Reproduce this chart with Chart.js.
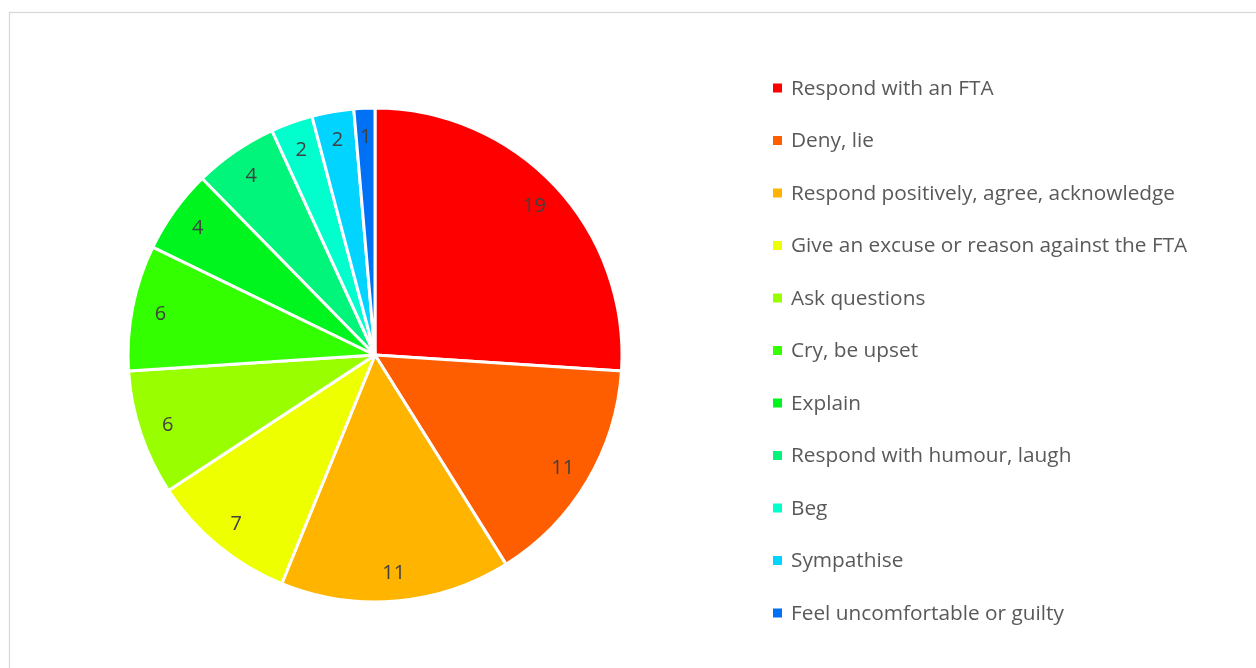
<!DOCTYPE html>
<html>
<head>
<meta charset="utf-8">
<title>Responses to FTAs</title>
<script src="https://cdn.jsdelivr.net/npm/chart.js"></script>
<style>
    html, body { margin: 0; padding: 0; background: #fff; }
    #wrap { position: relative; width: 1256px; height: 668px; }
</style>
</head>
<body>
<div id="wrap"><canvas id="chart" width="1256" height="668"></canvas></div>
<script>
var categories = [
    'Respond with an FTA',
    'Deny, lie',
    'Respond positively, agree, acknowledge',
    'Give an excuse or reason against the FTA',
    'Ask questions',
    'Cry, be upset',
    'Explain',
    'Respond with humour, laugh',
    'Beg',
    'Sympathise',
    'Feel uncomfortable or guilty'
];
var counts = [19, 11, 11, 7, 6, 6, 4, 4, 2, 2, 1];
var sliceColors = [
    '#FF0000', '#FF5E00', '#FFB400', '#EEFF00', '#99FF00', '#33FF00',
    '#00F41E', '#00F57A', '#00FFCC', '#00D4FF', '#0070F5'
];

var FONT = '"Open Sans", "Liberation Sans", sans-serif';

// light grey frame around the whole chart
var framePlugin = {
    id: 'frame',
    beforeDraw: function (chart) {
        var ctx = chart.ctx;
        ctx.save();
        ctx.fillStyle = '#fff';
        ctx.fillRect(0, 0, chart.width, chart.height);
        ctx.strokeStyle = '#D9D9D9';
        ctx.lineWidth = 1.3;
        ctx.strokeRect(9.5, 12.5, 1260, 700);
        ctx.restore();
    }
};

// value labels placed inside each slice
var sliceLabels = {
    id: 'sliceLabels',
    afterDatasetsDraw: function (chart) {
        var ctx = chart.ctx;
        var meta = chart.getDatasetMeta(0);
        var values = chart.data.datasets[0].data;
        ctx.save();
        ctx.font = '20px ' + FONT;
        ctx.fillStyle = '#404040';
        ctx.textAlign = 'center';
        ctx.textBaseline = 'middle';
        meta.data.forEach(function (arc, i) {
            var p = arc.getProps(['x', 'y', 'startAngle', 'endAngle', 'outerRadius'], true);
            var mid = (p.startAngle + p.endAngle) / 2;
            var r = p.outerRadius * 0.885;
            ctx.fillText(String(values[i]), p.x + Math.cos(mid) * r, p.y + Math.sin(mid) * r + 1);
        });
        ctx.restore();
    }
};

// legend column on the right
var sideLegend = {
    id: 'sideLegend',
    afterDraw: function (chart) {
        var ctx = chart.ctx;
        var labels = chart.data.labels;
        var colors = chart.data.datasets[0].backgroundColor;
        ctx.save();
        ctx.font = '20.8px ' + FONT;
        ctx.textAlign = 'left';
        ctx.textBaseline = 'middle';
        for (var i = 0; i < labels.length; i++) {
            var y = 88 + i * 52.5;
            ctx.fillStyle = colors[i];
            ctx.fillRect(773, y - 4.5, 9, 9);
            ctx.fillStyle = '#595959';
            ctx.fillText(labels[i], 791, y + 1);
        }
        ctx.restore();
    }
};

var config = {
    type: 'pie',
    data: {
        labels: categories,
        datasets: [{
            data: counts,
            backgroundColor: sliceColors,
            borderColor: '#ffffff',
            borderWidth: 3,
            hoverOffset: 0
        }]
    },
    options: {
        responsive: false,
        animation: false,
        radius: 247,
        layout: { padding: { left: 125, right: 631, top: 105, bottom: 63 } },
        plugins: {
            legend: { display: false },
            tooltip: { enabled: false }
        }
    },
    plugins: [framePlugin, sliceLabels, sideLegend]
};

new Chart(document.getElementById('chart'), config);
</script>
</body>
</html>
